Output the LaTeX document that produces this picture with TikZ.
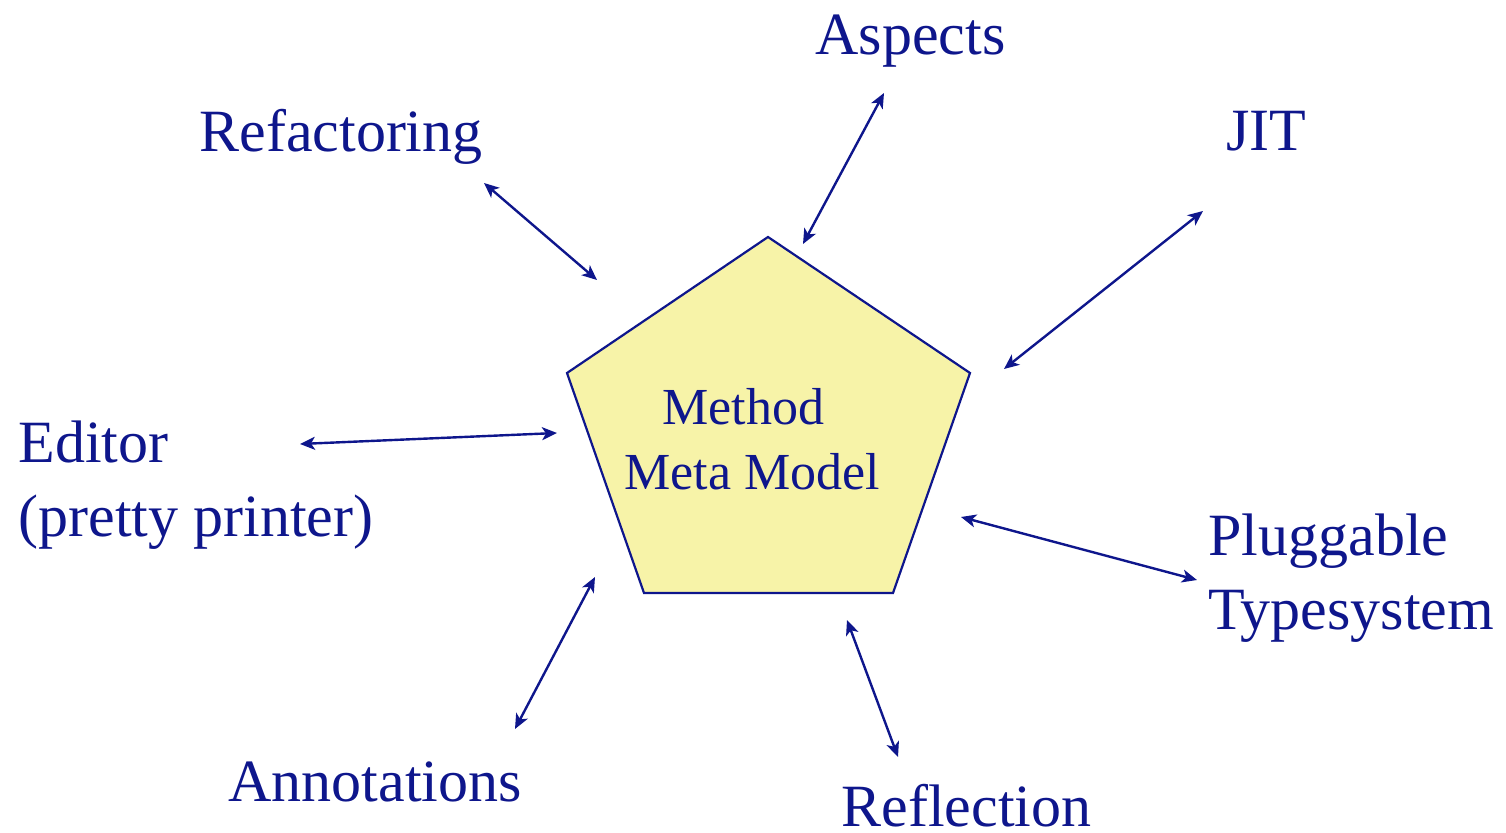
\documentclass[tikz,border=0pt]{standalone}
\usepackage{fontspec}
\setmainfont{Liberation Serif}
\usetikzlibrary{arrows.meta}
\definecolor{navy}{RGB}{14,22,140}
\definecolor{paleyellow}{RGB}{247,243,168}
\begin{document}
\begin{tikzpicture}[x=0.5pt,y=-0.5pt,
  label/.style={anchor=base west,inner sep=0pt,text=navy,font=\fontsize{30}{37}\selectfont},
  core/.style={anchor=base west,inner sep=0pt,text=navy,font=\fontsize{26}{32}\selectfont},
  link/.style={draw=navy,line width=1.2pt,{Stealth[length=7.5pt,width=6.5pt,inset=2pt]}-{Stealth[length=7.5pt,width=6.5pt,inset=2pt]}}]
\useasboundingbox (0,0) rectangle (1506,833);
% central pentagon
\draw[navy,line width=1.1pt,fill=paleyellow]
  (768,237) -- (970,373) -- (893,593) -- (644,593) -- (567,373) -- cycle;
\node[core] (method) at (662,425) {Method};
\node[core] (meta) at (624,490) {Meta Model};
% surrounding topics
\node[label] (aspects) at (815,55) {Aspects};
\node[label] (refactoring) at (199,152) {Refactoring};
\node[label] (jit) at (1226,151) {JIT};
\node[label] (editor) at (18,463) {Editor};
\node[label] (pretty) at (18,537) {(pretty printer)};
\node[label] (pluggable) at (1208,556) {Pluggable};
\node[label] (typesystem) at (1208,630) {Typesystem};
\node[label] (annotations) at (228,802) {Annotations};
\node[label] (reflection) at (841,827) {Reflection};
% arrow end points
\coordinate (r1) at (484,183); \coordinate (r2) at (597,280);
\coordinate (a1) at (884,93);  \coordinate (a2) at (803,244);
\coordinate (j1) at (1203,211); \coordinate (j2) at (1004,369);
\coordinate (e1) at (300,444); \coordinate (e2) at (557,433);
\coordinate (p1) at (961,517); \coordinate (p2) at (1197,580);
\coordinate (f1) at (847,620); \coordinate (f2) at (898,757);
\coordinate (n1) at (595,577); \coordinate (n2) at (515,729);
\draw[link] (r1) -- (r2);
\draw[link] (a1) -- (a2);
\draw[link] (j1) -- (j2);
\draw[link] (e1) -- (e2);
\draw[link] (p1) -- (p2);
\draw[link] (f1) -- (f2);
\draw[link] (n1) -- (n2);
\end{tikzpicture}
\end{document}
